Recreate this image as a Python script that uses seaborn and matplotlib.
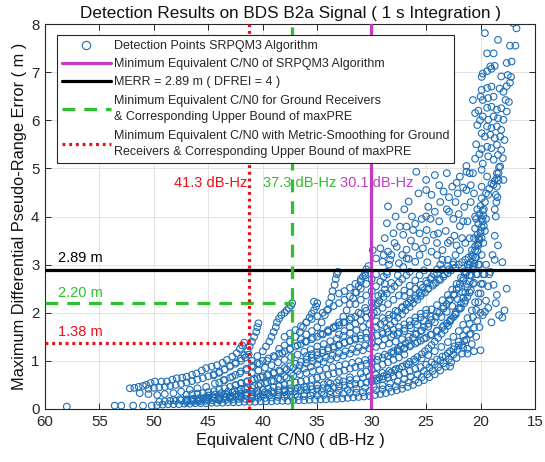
import matplotlib
matplotlib.use("Agg")
import matplotlib.pyplot as plt
from matplotlib.lines import Line2D
import seaborn as sns
import pandas as pd

# ---------------- data: (equivalent C/N0 [dB-Hz], max differential pseudo-range error [m]) ----------------
trk_base = [(58.0,0.05),(53.6,0.07),(53.0,0.07),(51.9,0.07),(51.0,0.07),(50.2,0.07),(49.7,0.08),(49.2,0.09),
            (48.7,0.10),(48.2,0.10),(47.7,0.10),(47.2,0.11),(46.7,0.11),(46.2,0.12),(45.7,0.12),(45.2,0.12),
            (44.7,0.13),(44.2,0.13),(43.7,0.13),(43.2,0.14),(42.7,0.14),(42.2,0.14),(41.7,0.15),(41.2,0.15),
            (40.7,0.15),(40.2,0.16),(39.7,0.16),(39.2,0.16),(38.7,0.17),(38.2,0.17),(37.7,0.17),(37.2,0.18),
            (36.7,0.18),(36.2,0.18),(35.7,0.19),(35.2,0.19),(34.7,0.20),(34.2,0.20),(33.7,0.21),(33.2,0.21),
            (32.7,0.22),(32.2,0.23),(31.7,0.24),(31.2,0.25),(30.7,0.26),(30.2,0.27),(29.7,0.29),(29.2,0.31),
            (28.7,0.33),(28.2,0.36),(27.7,0.39),(27.2,0.42),(26.7,0.46),(26.2,0.50),(25.7,0.55),(25.2,0.60),
            (24.7,0.66),(24.2,0.72),(23.7,0.80),(23.2,0.88),(22.7,0.97),(22.2,1.06),(21.7,1.15),(21.2,1.25),
            (20.8,1.35),(20.4,1.50),(20.1,1.70),(19.8,1.95),(19.5,2.25),(19.3,2.55),(19.1,2.85),(18.9,3.20),
            (18.7,3.60),(18.6,4.00),(18.45,4.40),(18.35,4.75)]
trk_low1 = [(49.5,0.15),(49.0,0.16),(48.5,0.17),(48.0,0.17),(47.5,0.18),(47.0,0.19),(46.5,0.20),(46.0,0.21),
            (45.5,0.22),(45.0,0.23),(44.5,0.24),(44.0,0.25),(43.5,0.27),(43.0,0.28),(42.5,0.30),(42.0,0.32),
            (41.5,0.34),(41.0,0.36),(40.5,0.38),(40.0,0.40),(39.5,0.42),(39.0,0.45),(38.5,0.47),(38.0,0.50),
            (37.5,0.52),(37.0,0.55),(36.5,0.57),(36.0,0.60),(35.5,0.62),(35.0,0.65),(34.5,0.68),(34.0,0.71),
            (33.5,0.74),(33.0,0.77),(32.5,0.80),(32.0,0.84),(31.5,0.87),(31.0,0.90),(30.5,0.94),(30.0,0.98),
            (29.5,1.02),(29.0,1.06),(28.5,1.10),(28.0,1.15),(27.5,1.20),(27.0,1.25),(26.5,1.30),(26.0,1.36),
            (25.5,1.42),(25.0,1.48),(24.5,1.55),(24.0,1.62),(23.5,1.70),(23.1,1.78),(22.7,1.87),(22.3,1.97),
            (21.9,2.08),(21.5,2.20),(21.2,2.33),(20.9,2.47),(20.6,2.62),(20.3,2.80),(20.1,3.00),(19.9,3.20),
            (19.75,3.45),(19.6,3.70),(19.5,3.95)]
trk_low2 = [(48.2,0.19),(47.6,0.20),(47.0,0.20),(46.4,0.21),(45.8,0.23),(45.2,0.25),(44.6,0.27),(44.0,0.29),
            (43.4,0.31),(42.8,0.34),(42.2,0.37),(41.6,0.41),(41.0,0.44),(40.4,0.48),(39.8,0.53),(39.2,0.58),
            (38.6,0.63),(38.0,0.68),(37.4,0.74),(36.8,0.79),(36.2,0.84),(35.6,0.88),(35.0,0.93),(34.4,0.98),
            (33.8,1.03),(33.2,1.07),(32.6,1.11),(32.0,1.15),(31.4,1.19),(30.8,1.22),(30.2,1.26),(29.6,1.29),
            (29.0,1.32),(28.4,1.36),(27.8,1.40),(27.2,1.45),(26.6,1.50),(26.0,1.56),(25.4,1.63),(24.8,1.71),
            (24.2,1.80),(23.6,1.91),(23.1,2.02),(22.6,2.14),(22.1,2.28),(21.7,2.43),(21.3,2.60),(21.0,2.78),
            (20.7,2.97),(20.5,3.15)]
trk_low3 = [(46.0,0.17),(45.0,0.19),(44.0,0.20),(43.0,0.22),(42.0,0.23),(41.0,0.25),(40.2,0.27),(39.4,0.28),
            (38.6,0.29),(37.8,0.30),(37.0,0.31),(36.2,0.32),(35.4,0.34),(34.6,0.35),(33.8,0.37),(33.0,0.38),
            (32.2,0.40),(31.4,0.42),(30.6,0.44),(29.8,0.46),(29.0,0.49),(28.3,0.53),(27.6,0.57),(27.0,0.62),
            (26.4,0.67),(25.8,0.72),(25.2,0.79),(24.7,0.86),(24.2,0.93),(23.7,1.01),(23.2,1.10),(22.8,1.20),
            (22.4,1.30),(22.0,1.40),(21.6,1.52),(21.3,1.64),(21.0,1.77),(20.7,1.91),(20.4,2.06),(20.2,2.22),
            (20.0,2.40),(19.8,2.60),(19.65,2.80),(19.5,3.00)]
trk_low4 = [(44.0,0.22),(43.5,0.23),(43.0,0.24),(42.5,0.25),(42.0,0.26),(41.5,0.27),(41.0,0.28),(40.5,0.29),
            (40.0,0.30),(39.5,0.32),(39.0,0.33),(38.5,0.34),(38.0,0.35),(37.5,0.36),(37.0,0.37),(36.5,0.39),
            (36.0,0.40),(35.5,0.41),(35.0,0.42),(34.5,0.43),(34.0,0.44),(33.5,0.46),(33.0,0.47),(32.5,0.49),
            (32.0,0.50),(31.5,0.52),(31.0,0.53),(30.5,0.55),(30.0,0.57),(29.5,0.60),(29.0,0.62),(28.5,0.65),
            (28.0,0.68),(27.5,0.71),(27.0,0.75),(26.5,0.79),(26.0,0.83),(25.5,0.87),(25.0,0.92),(24.5,0.97),
            (24.0,1.03),(23.5,1.09),(23.0,1.16),(22.5,1.24),(22.0,1.32),(21.5,1.42),(21.0,1.55)]
trk_mid1 = [(51.3,0.33),(50.5,0.31),(49.7,0.29),(49.0,0.31),(48.2,0.33),(47.5,0.36),(46.7,0.40),(46.0,0.43),
            (45.2,0.46),(44.4,0.53),(43.6,0.60),(42.8,0.67),(42.1,0.74),(41.5,0.81),(40.9,0.88),(40.3,0.94),
            (39.6,1.00),(38.9,1.08),(38.2,1.16),(37.5,1.24),(36.8,1.32),(36.1,1.40),(35.4,1.48),(34.7,1.56),
            (34.0,1.64),(33.3,1.72),(32.6,1.80),(31.9,1.90),(31.2,2.00),(30.6,2.10),(30.0,2.22),(29.4,2.35),
            (28.8,2.48),(28.2,2.62),(27.6,2.78),(27.1,2.95),(26.6,3.12)]
trk_mid2 = [(47.0,0.30),(46.5,0.31),(46.0,0.32),(45.5,0.33),(45.0,0.35),(44.5,0.37),(44.0,0.40),(43.5,0.43),
            (43.0,0.46),(42.5,0.49),(42.0,0.53),(41.5,0.56),(41.0,0.60),(40.5,0.64),(40.0,0.68),(39.5,0.72),
            (39.0,0.76),(38.5,0.80),(38.0,0.85),(37.5,0.89),(37.0,0.94),(36.5,0.98),(36.0,1.03),(35.5,1.07),
            (35.0,1.12),(34.5,1.17),(34.0,1.22),(33.5,1.27),(33.0,1.32),(32.5,1.37),(32.0,1.42),(31.5,1.47),
            (31.0,1.53),(30.5,1.58),(30.0,1.64),(29.6,1.70),(29.2,1.76),(28.8,1.82),(28.4,1.88),(28.0,1.95),
            (27.6,2.02),(27.2,2.10),(26.8,2.18),(26.4,2.26),(26.0,2.35),(25.6,2.43),(25.3,2.52),(24.9,2.61),
            (24.6,2.70),(24.3,2.80),(24.0,2.90),(23.7,3.00),(23.5,3.10)]
trk_mid3 = [(44.0,0.55),(43.5,0.60),(43.0,0.65),(42.5,0.71),(42.0,0.78),(41.5,0.84),(41.0,0.90),(40.5,0.95),
            (40.0,1.00),(39.5,1.05),(39.0,1.10),(38.5,1.15),(38.0,1.20),(37.5,1.25),(37.0,1.30),(36.5,1.35),
            (36.0,1.40),(35.5,1.45),(35.0,1.50),(34.5,1.56),(34.0,1.62),(33.5,1.68),(33.0,1.74),(32.5,1.80),
            (32.0,1.86),(31.5,1.92),(31.0,1.98),(30.5,2.04),(30.0,2.10),(29.6,2.18),(29.3,2.25),(28.9,2.33),
            (28.6,2.40),(28.2,2.48),(27.9,2.55),(27.5,2.63),(27.2,2.70),(26.8,2.78),(26.5,2.85)]
trk_fill = [(47.0,0.14),(46.4,0.15),(45.8,0.16),(45.2,0.17),(44.6,0.18),(44.0,0.18),(43.4,0.19),(42.8,0.20),
            (42.2,0.21),(41.6,0.21),(41.0,0.22),(40.4,0.23),(39.8,0.23),(39.2,0.24),(38.6,0.25),(38.0,0.25),
            (37.4,0.26),(36.8,0.26),(36.2,0.27),(35.6,0.28),(35.0,0.28),(34.4,0.29),(33.8,0.30),(33.2,0.31),
            (32.6,0.32),(32.0,0.33),(31.4,0.34),(30.8,0.35),(30.2,0.37),(29.6,0.39),(29.0,0.41),(28.4,0.44),
            (27.8,0.47),(27.2,0.51),(26.6,0.55),(26.0,0.60),(25.4,0.66),(24.9,0.72),(24.4,0.79),(23.9,0.87),
            (23.4,0.95),(22.9,1.04),(22.5,1.13),(22.1,1.23),(21.7,1.33),(21.3,1.44),(20.9,1.56),(20.6,1.69),
            (20.3,1.83),(20.0,2.00)]
trk_fill2 = [(47.0,0.17),(46.4,0.18),(45.8,0.19),(45.2,0.20),(44.6,0.22),(44.0,0.23),(43.4,0.25),(42.8,0.26),
             (42.2,0.28),(41.6,0.30),(41.0,0.31),(40.4,0.33),(39.8,0.35),(39.2,0.37),(38.6,0.39),(38.0,0.41),
             (37.4,0.43),(36.8,0.44),(36.2,0.46),(35.6,0.47),(35.0,0.49),(34.4,0.51),(33.8,0.53),(33.2,0.55),
             (32.6,0.57),(32.0,0.60),(31.4,0.62),(30.8,0.65),(30.2,0.68),(29.6,0.71),(29.0,0.75),(28.4,0.79),
             (27.8,0.83),(27.2,0.88),(26.6,0.93),(26.0,0.99),(25.4,1.05),(24.8,1.12),(24.2,1.20),(23.6,1.29),
             (23.0,1.39),(22.5,1.50),(22.0,1.62),(21.6,1.75),(21.2,1.89),(20.8,2.05),(20.5,2.22),(20.2,2.40),
             (19.95,2.60),(19.75,2.80)]
trk_fill3 = [(45.0,0.28),(44.4,0.30),(43.8,0.33),(43.2,0.36),(42.6,0.39),(42.0,0.42),(41.4,0.45),(40.8,0.48),
             (40.2,0.52),(39.6,0.55),(39.0,0.58),(38.4,0.62),(37.8,0.65),(37.2,0.69),(36.6,0.72),(36.0,0.75),
             (35.4,0.78),(34.8,0.81),(34.2,0.84),(33.6,0.87),(33.0,0.90),(32.4,0.93),(31.8,0.96),(31.2,0.99),
             (30.6,1.02),(30.0,1.05),(29.4,1.09),(28.8,1.13),(28.2,1.17),(27.6,1.22),(27.0,1.27),(26.4,1.33),
             (25.8,1.39),(25.2,1.46),(24.6,1.54),(24.0,1.63),(23.4,1.73),(22.8,1.84),(22.3,1.96),(21.8,2.10),
             (21.4,2.25),(21.0,2.42),(20.7,2.60),(20.4,2.80),(20.2,3.00)]
trk_fill4 = [(42.5,0.50),(42.0,0.54),(41.4,0.58),(40.8,0.62),(40.2,0.66),(39.6,0.70),(39.0,0.74),(38.4,0.78),
             (37.8,0.82),(37.2,0.86),(36.6,0.90),(36.0,0.95),(35.4,0.99),(34.8,1.03),(34.2,1.07),(33.6,1.11),
             (33.0,1.16),(32.4,1.20),(31.8,1.24),(31.2,1.28),(30.6,1.32),(30.0,1.36),(29.4,1.40),(28.8,1.45),
             (28.2,1.50),(27.6,1.56),(27.0,1.62),(26.4,1.68),(25.8,1.75),(25.2,1.83),(24.6,1.92),(24.0,2.02),
             (23.4,2.13),(22.9,2.25),(22.4,2.38),(22.0,2.52),(21.6,2.67),(21.3,2.83),(21.0,3.00)]
trk_fill5 = [(41.0,0.75),(40.4,0.80),(39.8,0.86),(39.2,0.91),(38.6,0.97),(38.0,1.02),(37.4,1.08),(36.8,1.13),
             (36.2,1.19),(35.6,1.24),(35.0,1.30),(34.4,1.35),(33.8,1.41),(33.2,1.46),(32.6,1.52),(32.0,1.58),
             (31.4,1.64),(30.8,1.70),(30.2,1.76),(29.6,1.82),(29.0,1.89),(28.4,1.96),(27.8,2.04),(27.2,2.12),
             (26.6,2.21),(26.0,2.30),(25.4,2.40),(24.8,2.50),(24.3,2.60),(23.8,2.70),(23.3,2.80),(22.9,2.90),
             (22.5,3.00)]
trk_fill6 = [(38.0,1.50),(37.5,1.57),(37.0,1.64),(36.5,1.72),(36.0,1.80),(35.5,1.87),(35.0,1.93),(34.5,2.00),
             (34.0,2.07),(33.5,2.14),(33.0,2.20),(32.5,2.27),(32.0,2.34),(31.5,2.42),(31.0,2.50),(30.5,2.60),
             (30.0,2.70),(29.6,2.80)]
trk_fill7 = [(50.5,0.42),(50.0,0.44),(49.5,0.45),(49.0,0.46),(48.5,0.48),(48.0,0.50),(47.5,0.52),(47.0,0.55),
             (46.5,0.58),(46.0,0.61),(45.5,0.64),(45.0,0.68),(44.5,0.72),(44.0,0.77),(43.5,0.82),(43.0,0.88),
             (42.5,0.94),(42.0,1.00),(41.6,1.07),(41.3,1.13)]
trk_fill8 = [(28.0,1.55),(27.5,1.60),(27.0,1.67),(26.5,1.74),(26.0,1.82),(25.5,1.90),(25.0,1.98),(24.5,2.07),
             (24.0,2.16),(23.5,2.26),(23.0,2.37),(22.6,2.48),(22.2,2.60),(21.8,2.73),(21.5,2.86),(21.2,3.00),
             (27.0,2.35),(26.5,2.42),(26.0,2.50),(25.5,2.58),(25.0,2.66),(24.5,2.74),(24.0,2.82),(23.5,2.90),
             (23.0,2.97),(22.5,3.05)]
trk_fill9 = [(38.0,0.38),(37.0,0.42),(36.0,0.46),(35.0,0.50),(34.0,0.55),(33.0,0.60),(32.0,0.66),(31.0,0.74),
             (30.5,0.78),(30.0,0.83),(29.5,0.87),(29.0,0.92),(28.5,0.97),(28.0,1.02),(27.5,1.07),(27.0,1.13),
             (36.0,1.10),(35.5,1.14),(35.0,1.18),(34.5,1.22),(34.0,1.26),(33.5,1.30),(33.0,1.34),(32.5,1.38),
             (32.0,1.41),(31.5,1.44),(31.0,1.46),(30.5,1.48),(30.0,1.50),(29.5,1.53),(29.0,1.56),(28.5,1.60),
             (28.0,1.65),(27.5,1.70),(27.0,1.76),(26.5,1.83),(26.0,1.90),(25.5,1.98),(25.0,2.06),
             (33.0,1.55),(32.5,1.62),(32.0,1.70),(31.5,1.77),(31.0,1.84),(30.5,1.90),(30.0,1.95),(29.5,2.02),
             (29.0,2.10),(28.5,2.18),(28.0,2.27),(27.5,2.36),(27.0,2.46),(26.5,2.56),(26.0,2.67),(25.6,2.78),
             (25.2,2.88),(31.5,2.18),(31.0,2.27),(30.5,2.36),(30.0,2.45),(29.6,2.55),(29.2,2.65),(28.9,2.75),
             (28.6,2.85)]
trk_up1 = [(52.2,0.43),(51.8,0.44),(51.4,0.46),(51.0,0.48),(50.7,0.50),(50.3,0.54),(49.9,0.57),(49.3,0.57),
           (48.8,0.57),(48.3,0.61),(47.9,0.64),(47.4,0.65),(47.0,0.67),(46.5,0.71),(46.1,0.74),(45.6,0.80),
           (45.2,0.85),(44.7,0.88),(44.2,0.91),(43.7,0.96),(43.3,1.02),(42.8,1.09),(42.4,1.16),(42.1,1.25),
           (41.9,1.32),(41.7,1.38)]
trk_up2 = [(44.5,0.70),(44.0,0.75),(43.5,0.82),(43.0,0.90),(42.5,0.97),(42.0,1.05),(41.7,1.12),(41.4,1.20),
           (41.2,1.30),(41.0,1.40),(40.8,1.50),(40.6,1.60),(40.5,1.70),(40.4,1.78)]
trk_up3 = [(41.0,1.00),(40.5,1.10),(40.0,1.20),(39.7,1.30),(39.4,1.40),(39.2,1.50),(39.0,1.60),(38.8,1.70),
           (38.7,1.80),(38.5,1.88),(38.3,1.95),(38.0,2.00),(37.8,2.05),(37.6,2.10),(37.4,2.15),(37.3,2.20)]
trk_up4 = [(38.5,1.25),(38.0,1.32),(37.5,1.40),(37.0,1.50),(36.6,1.60),(36.3,1.70),(36.0,1.80),(35.7,1.90),
           (35.5,1.98),(35.3,2.05),(35.1,2.13),(35.0,2.20),(35.3,2.23)]
trk_up5 = [(36.5,1.45),(36.0,1.55),(35.5,1.62),(35.0,1.70),(34.6,1.80),(34.3,1.95),(34.1,2.05),(33.9,2.20),
           (33.7,2.32),(33.6,2.45),(33.4,2.58),(33.3,2.70),(33.2,2.80),(33.1,2.85)]
trk_up6 = [(34.5,1.55),(34.0,1.60),(33.5,1.70),(33.0,1.80),(32.6,1.92),(32.3,2.05),(32.0,2.18),(31.7,2.30),
           (31.4,2.42),(31.2,2.55),(31.0,2.65),(30.8,2.75),(30.6,2.83),(30.5,2.90),(30.3,2.97),
           (33.0,2.40),(32.5,2.45),(32.0,2.52),(31.5,2.60),(31.0,2.70),(30.6,2.78)]
trk_r1 = [(30.0,0.60),(29.6,0.63),(29.3,0.65),(28.9,0.68),(28.6,0.72),(28.2,0.76),(27.9,0.80),(27.5,0.84),
          (27.2,0.88),(26.8,0.93),(26.5,0.98),(26.1,1.03),(25.8,1.08),(25.4,1.14),(25.1,1.20),(24.8,1.26),
          (24.5,1.33),(24.2,1.40),(23.9,1.48),(23.6,1.56),(23.3,1.64),(23.0,1.73),(22.8,1.82),(22.5,1.91),
          (22.3,2.00),(22.0,2.10),(21.8,2.20),(21.6,2.31),(21.4,2.42),(21.2,2.53),(21.0,2.65),(20.85,2.77),
          (20.7,2.90),(20.55,3.02),(20.4,3.15),(20.3,3.28),(20.2,3.40),(20.1,3.52),(20.0,3.65),(19.9,3.78),
          (19.8,3.90),(19.75,4.02),(19.7,4.15)]
trk_r3 = [(29.0,1.60),(28.6,1.67),(28.3,1.75),(27.9,1.82),(27.6,1.90),(27.2,1.97),(26.9,2.05),(26.5,2.12),
          (26.2,2.20),(25.8,2.27),(25.5,2.35),(25.1,2.42),(24.8,2.50),(24.4,2.56),(24.1,2.62),(23.7,2.68),
          (23.4,2.75),(23.0,2.82),(22.7,2.88),(22.3,2.94),(22.0,3.00),(21.7,3.05),(21.4,3.10),(21.1,3.15),
          (20.8,3.20)]
trk_r4 = [(28.0,1.20),(27.6,1.25),(27.3,1.30),(26.9,1.36),(26.6,1.42),(26.2,1.48),(25.9,1.55),(25.5,1.62),
          (25.2,1.70),(24.8,1.77),(24.5,1.85),(24.1,1.92),(23.8,2.00),(23.4,2.09),(23.1,2.18),(22.8,2.28),
          (22.5,2.38),(22.2,2.49),(21.9,2.60),(21.6,2.71),(21.4,2.82),(21.1,2.93),(20.9,3.05),(20.7,3.17),
          (20.5,3.30),(20.3,3.42),(20.2,3.55),
          (29.8,2.00),(29.4,2.20),(29.1,2.40),(28.8,2.60),(28.6,2.80),(28.4,3.00),(28.2,3.20)]
blob_pts = [(20.8,3.30),(20.5,3.38),(20.2,3.45),(19.9,3.55),(20.6,3.55),(20.3,3.62),(20.0,3.70),(19.7,3.80),
            (20.5,3.75),(20.2,3.85),(19.9,3.95),(20.4,3.95),(20.1,4.05),(19.8,4.12),(20.3,4.15),(20.0,4.22),
            (19.6,4.30),(19.9,4.38),(19.5,4.48),(19.2,4.58),(19.0,4.68),(18.7,4.74),(18.5,4.80),(18.35,4.90),
            (18.3,5.02),(18.5,4.62),(18.6,4.45),(18.55,4.30),(18.7,4.15)]
right_pts = [(22.8,0.88),(21.6,1.27),(21.2,1.15),(20.6,1.20),(20.0,1.22),(19.6,2.02),(19.3,2.10),(18.8,2.58),
             (18.5,2.37),(18.0,1.90),(17.6,2.50),(18.0,3.05),(18.6,2.20),(19.0,1.80),(18.3,1.95),(17.8,2.05),
             (19.2,2.80),(18.7,3.10),(18.4,3.40)]
mid_sparse = [(29.6,3.13),(29.0,3.06),(28.3,3.10),(27.5,3.03),(26.8,3.13),(26.0,3.06),(29.2,3.34),(28.5,3.27),
              (27.7,3.37),(26.8,3.31),(26.0,3.37),(25.3,3.34),(24.5,3.27),(28.8,3.55),(28.0,3.65),(27.1,3.62),
              (26.2,3.72),(25.6,3.65),(24.95,3.72),(24.3,3.62),(28.6,3.86),(27.4,3.79),(26.8,3.79),(28.5,4.21),
              (26.6,4.31),(25.7,4.48),(25.0,4.55),(25.9,4.93),(25.0,4.76),(24.2,4.86),(23.1,4.90),(21.9,4.83),
              (21.3,4.93),(20.7,4.90),(19.9,4.97),(19.4,4.83),(18.5,4.90),(17.9,4.76),(23.4,4.52),(22.6,4.62),
              (22.1,4.48),(21.3,4.55),(20.6,4.48),(19.9,4.62),(19.3,4.45),(18.8,4.66),(23.5,3.30),(22.8,3.50),
              (22.2,3.40),(23.8,3.90),(22.9,4.10),(21.9,3.80),(21.5,4.20),(24.2,4.10),(23.2,3.70),(22.5,3.95),
              (21.7,3.55),(24.6,3.95),(21.2,3.90),(20.9,4.30),(22.3,4.30),(23.7,4.30),(24.8,4.20),(27.8,4.00),
              (27.0,4.15),(26.3,4.00),(25.4,3.95),(29.9,3.30),(21.3,5.05),(20.5,5.20),(21.0,4.90),
              (28.9,3.20),(27.2,3.20),(25.6,3.20),(24.9,3.05),(24.0,3.20),(23.0,3.10),(22.3,3.20),(27.9,3.45),
              (26.4,3.50),(25.0,3.50),(24.0,3.45),(23.9,3.65),(23.0,3.45),(22.4,3.60),(21.9,3.30),(21.4,3.45),
              (26.0,3.85),(25.0,4.00),(23.1,4.15),(22.0,4.05),(21.6,3.90),(24.5,4.45),(23.8,4.65),(22.9,4.40),
              (22.2,4.70),(21.6,4.60),(20.9,4.65),(20.5,4.00),(21.0,3.55)]
top_pts = [(17.0,8.02),(16.7,7.91),(19.6,7.81),(18.4,7.67),(17.3,7.55),(16.8,7.55),(19.4,7.39),(18.8,7.39),
           (17.6,7.19),(17.15,7.22),(19.1,7.12),(18.7,7.13),(19.8,6.97),(19.4,7.02),(19.0,7.07),(18.1,6.91),
           (17.5,6.94),(17.2,6.90),(17.3,6.78),(17.6,6.71),(19.9,6.63),(19.4,6.67),(19.0,6.70),(18.25,6.66),
           (17.9,6.59),(19.8,6.42),(19.3,6.46),(18.8,6.49),(17.7,6.42),(17.4,6.38),(19.4,6.26),(19.0,6.28),
           (18.5,6.22),(18.1,6.25),(17.6,6.18),(19.8,6.08),(19.3,6.01),(18.8,6.08),(18.4,6.04),(17.9,6.01),
           (19.4,5.87),(19.0,5.84),(18.5,5.87),(18.1,5.80),(19.6,5.66),(19.1,5.70),(18.7,5.63),(18.2,5.66),
           (17.8,5.59),(19.4,5.45),(19.0,5.42),(18.5,5.49),(18.1,5.38),(19.3,5.25),(18.8,5.18),(18.4,5.28),
           (17.95,5.21),(18.2,5.04),(20.2,6.20),(20.3,5.90),(20.4,5.50),(20.1,5.30),(19.8,5.10),(19.9,6.90),
           (20.7,6.42),(20.0,6.49),(20.5,6.15),(20.05,6.00),(19.9,5.73),(19.9,5.40)]

# reference levels
cn0_algorithm = 30.1
cn0_ground = 37.3
cn0_smooth = 41.3
merr = 2.89
maxpre_ground = 2.20
maxpre_smooth = 1.38

title = "Detection Results on BDS B2a Signal ( 1 s Integration )"
xlabel = "Equivalent C/N0 ( dB-Hz )"
ylabel = "Maximum Differential Pseudo-Range Error ( m )"
x_ticks = [60, 55, 50, 45, 40, 35, 30, 25, 20, 15]
y_ticks = [0, 1, 2, 3, 4, 5, 6, 7, 8]
legend_labels = ["Detection Points SRPQM3 Algorithm",
                 "Minimum Equivalent C/N0 of SRPQM3 Algorithm",
                 "MERR = 2.89 m ( DFREI = 4 )",
                 "Minimum Equivalent C/N0 for Ground Receivers\n& Corresponding Upper Bound of maxPRE",
                 "Minimum Equivalent C/N0 with Metric-Smoothing for Ground\nReceivers & Corresponding Upper Bound of maxPRE"]

# ---------------- plotting ----------------
sns.set_theme(style="whitegrid")
plt.rcParams["font.family"] = ["Liberation Sans", "DejaVu Sans"]

BLUE = "#1f6fb8"
MAG = "#c23cc2"
GREEN = "#2fbf2f"
RED = "#e8111b"

all_pts = (trk_base + trk_low1 + trk_low2 + trk_low3 + trk_low4 + trk_mid1 + trk_mid2 + trk_mid3
           + trk_fill + trk_fill2 + trk_fill3 + trk_fill4 + trk_fill5 + trk_fill6 + trk_fill7 + trk_fill8
           + trk_fill9 + trk_up1 + trk_up2 + trk_up3 + trk_up4 + trk_up5 + trk_up6 + trk_r1 + trk_r3 + trk_r4
           + blob_pts + right_pts + mid_sparse + top_pts)
df = pd.DataFrame(all_pts, columns=["cn0", "err"])

fig = plt.figure(figsize=(5.45, 4.62), dpi=100)
ax = fig.add_axes([45 / 545, 1 - 409 / 462, 490 / 545, 385 / 462])
ax.set_facecolor("white")

sns.scatterplot(data=df, x="cn0", y="err", ax=ax, facecolor="none", edgecolor=BLUE, marker="o",
                s=23, linewidth=0.8, legend=False, zorder=2)

ax.axvline(cn0_algorithm, color=MAG, lw=2.3, zorder=3)
ax.axhline(merr, color="black", lw=2.3, zorder=3)
ax.axvline(cn0_ground, color=GREEN, lw=2.3, dashes=(4, 2.8), zorder=3)
ax.plot([60, cn0_ground], [maxpre_ground, maxpre_ground], color=GREEN, lw=2.3, dashes=(4, 2.8), zorder=3)
ax.axvline(cn0_smooth, color=RED, lw=2.3, dashes=(0.9, 1.2), zorder=3)
ax.plot([60, cn0_smooth], [maxpre_smooth, maxpre_smooth], color=RED, lw=2.3, dashes=(0.9, 1.2), zorder=3)

fs = 10.5
ax.text(58.8, merr + 0.25, f"{merr:.2f} m", color="black", fontsize=fs, ha="left", va="center", zorder=4)
ax.text(58.8, maxpre_ground + 0.21, f"{maxpre_ground:.2f} m", color=GREEN, fontsize=fs, ha="left", va="center", zorder=4)
ax.text(58.8, maxpre_smooth + 0.22, f"{maxpre_smooth:.2f} m", color=RED, fontsize=fs, ha="left", va="center", zorder=4)
ax.text(44.8, 4.70, f"{cn0_smooth:.1f} dB-Hz", color=RED, fontsize=fs, ha="center", va="center", zorder=4)
ax.text(36.6, 4.70, f"{cn0_ground:.1f} dB-Hz", color=GREEN, fontsize=fs, ha="center", va="center", zorder=4)
ax.text(29.5, 4.70, f"{cn0_algorithm:.1f} dB-Hz", color=MAG, fontsize=fs, ha="center", va="center", zorder=4)

ax.set_xlim(60, 15)
ax.set_ylim(0, 8)
ax.set_xticks(x_ticks)
ax.set_yticks(y_ticks)
ax.grid(True, color="#e3e3e3", lw=0.7)
ax.set_axisbelow(True)
for sp in ax.spines.values():
    sp.set_color("#262626")
    sp.set_linewidth(0.8)
ax.tick_params(direction="in", length=4, width=0.7, colors="#262626", labelsize=10.8,
               top=True, right=True, bottom=True, left=True, pad=4)
ax.set_title(title, fontsize=12.3, color="#111111", pad=4)
ax.set_xlabel(xlabel, fontsize=11.8, color="#111111", labelpad=3)
ax.set_ylabel(ylabel, fontsize=11.8, color="#111111", labelpad=3)

handles = [Line2D([], [], ls="none", marker="o", mfc="none", mec=BLUE, ms=6, mew=0.8),
           Line2D([], [], color=MAG, lw=2.3),
           Line2D([], [], color="black", lw=2.3),
           Line2D([], [], color=GREEN, lw=2.3, dashes=(4, 2.8)),
           Line2D([], [], color=RED, lw=2.3, dashes=(0.9, 1.2))]
leg = ax.legend(handles, legend_labels, loc="upper left", bbox_to_anchor=(12 / 490, 1 - 11 / 385),
                borderaxespad=0, fontsize=9.0, frameon=True, fancybox=False, framealpha=1,
                edgecolor="#262626", handlelength=3.9, handletextpad=0.25, labelspacing=0.5,
                borderpad=0.4)
for t in leg.get_texts():
    t.set_linespacing(1.5)
leg.get_frame().set_linewidth(0.8)
leg.set_zorder(6)

fig.savefig("out.png", dpi=100)
